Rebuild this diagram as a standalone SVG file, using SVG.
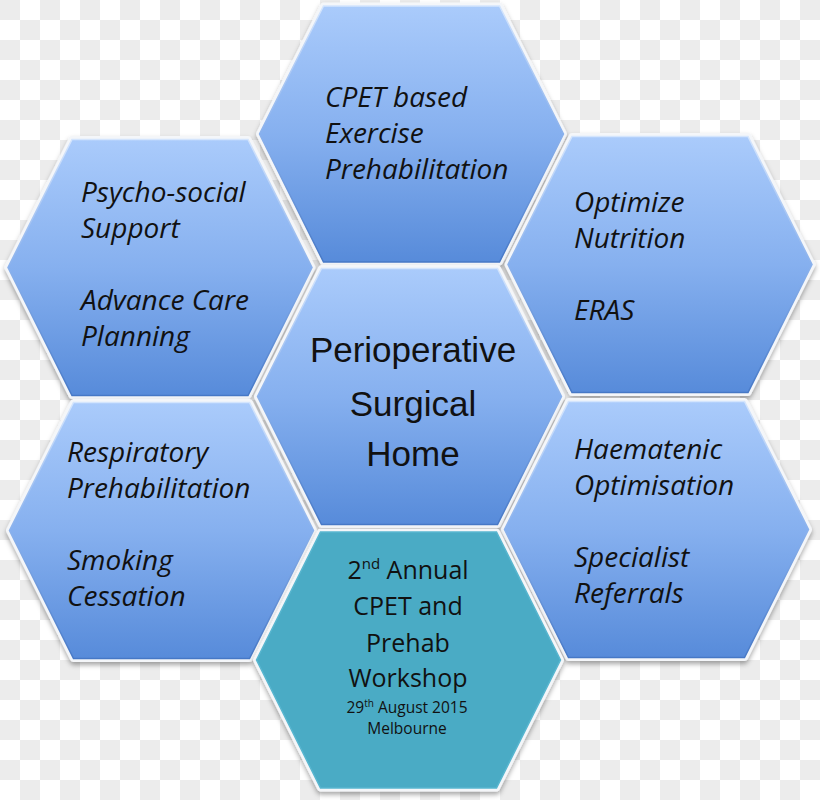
<svg xmlns="http://www.w3.org/2000/svg" xmlns:xlink="http://www.w3.org/1999/xlink" width="820" height="800" viewBox="0 0 820 800">
  <defs>
    <pattern id="checker" width="40" height="40" patternUnits="userSpaceOnUse">
      <rect width="40" height="40" fill="#ffffff"/>
      <rect x="0" y="0" width="20" height="20" fill="#ececec"/>
      <rect x="20" y="20" width="20" height="20" fill="#ececec"/>
    </pattern>
    <linearGradient id="blue" x1="0" y1="0" x2="0" y2="1">
      <stop offset="0" stop-color="#aacbfb"/>
      <stop offset="0.5" stop-color="#86b0ef"/>
      <stop offset="1" stop-color="#578bda"/>
    </linearGradient>
    <linearGradient id="edge" x1="0" y1="0" x2="0" y2="1">
      <stop offset="0" stop-color="#d4e5fd"/>
      <stop offset="0.5" stop-color="#8ab1ec"/>
      <stop offset="1" stop-color="#4678c6"/>
    </linearGradient>
    <filter id="shadow" x="-10%" y="-10%" width="120%" height="125%">
      <feDropShadow dx="0" dy="3" stdDeviation="2.5" flood-color="#000000" flood-opacity="0.35"/>
    </filter>
    <path id="hex" d="M-88,-128 L88,-128 L152,0 L88,128 L-88,128 L-152,0 Z"/>
  </defs>
  <style>
    .halo { fill: #ffffff; stroke: #f4f6f9; stroke-width: 7; stroke-linejoin: round; filter: url(#shadow); }
    .hexb { fill: url(#blue); stroke: url(#edge); stroke-width: 1.5; }
    .hext { fill: #4aabc5; stroke: #58b6cf; stroke-width: 1.5; }
    .it { font-family: "Open Sans", "Liberation Sans", sans-serif; font-style: italic; font-size: 28px; fill: #111111; }
    .ctr { font-family: "Liberation Sans", Arial, sans-serif; font-size: 35px; fill: #111111; text-anchor: middle; }
    .ws { font-family: "Open Sans", "Liberation Sans", sans-serif; font-size: 25px; fill: #111111; text-anchor: middle; }
    .wss { font-family: "Open Sans", "Liberation Sans", sans-serif; font-size: 15.5px; fill: #111111; text-anchor: middle; }
  </style>
  <rect width="820" height="800" fill="url(#checker)"/>

  <g id="connectors"/>

  <g id="node-cpet" transform="translate(411.5,134)">
    <use xlink:href="#hex" class="halo"/>
    <use xlink:href="#hex" class="hexb"/>
  </g>
  <g id="node-psycho" transform="translate(160,267.5)">
    <use xlink:href="#hex" class="halo"/>
    <use xlink:href="#hex" class="hexb"/>
  </g>
  <g id="node-nutrition" transform="translate(660,264.5)">
    <use xlink:href="#hex" class="halo"/>
    <use xlink:href="#hex" class="hexb"/>
  </g>
  <g id="node-center" transform="translate(409.5,396.5)">
    <use xlink:href="#hex" class="halo"/>
    <use xlink:href="#hex" class="hexb"/>
  </g>
  <g id="node-respiratory" transform="translate(161.5,530.5)">
    <use xlink:href="#hex" class="halo"/>
    <use xlink:href="#hex" class="hexb"/>
  </g>
  <g id="node-haematenic" transform="translate(656.5,529.5)">
    <use xlink:href="#hex" class="halo"/>
    <use xlink:href="#hex" class="hexb"/>
  </g>
  <g id="node-workshop" transform="translate(408.5,660)">
    <use xlink:href="#hex" class="halo"/>
    <use xlink:href="#hex" class="hext"/>
  </g>

  <g id="labels">
    <text class="it" x="325" y="107">CPET based</text>
    <text class="it" x="325" y="143">Exercise</text>
    <text class="it" x="325" y="179">Prehabilitation</text>

    <text class="it" x="81" y="202">Psycho-social</text>
    <text class="it" x="81" y="238">Support</text>
    <text class="it" x="81" y="310">Advance Care</text>
    <text class="it" x="81" y="346">Planning</text>

    <text class="it" x="574" y="212">Optimize</text>
    <text class="it" x="574" y="248">Nutrition</text>
    <text class="it" x="574" y="320">ERAS</text>

    <text class="it" x="67" y="462">Respiratory</text>
    <text class="it" x="67" y="498">Prehabilitation</text>
    <text class="it" x="67" y="570">Smoking</text>
    <text class="it" x="67" y="606">Cessation</text>

    <text class="it" x="574" y="459">Haematenic</text>
    <text class="it" x="574" y="495">Optimisation</text>
    <text class="it" x="574" y="567">Specialist</text>
    <text class="it" x="574" y="603">Referrals</text>

    <text class="ctr" x="413" y="362">Perioperative</text>
    <text class="ctr" x="413" y="416">Surgical</text>
    <text class="ctr" x="413" y="466">Home</text>

    <text class="ws" x="408" y="579">2<tspan font-size="15" dy="-10">nd</tspan><tspan dy="10"> Annual</tspan></text>
    <text class="ws" x="408" y="615">CPET and</text>
    <text class="ws" x="408" y="652">Prehab</text>
    <text class="ws" x="408" y="687">Workshop</text>
    <text class="wss" x="407" y="713">29<tspan font-size="10" dy="-6">th</tspan><tspan dy="6"> August 2015</tspan></text>
    <text class="wss" x="407" y="734">Melbourne</text>
  </g>
</svg>
